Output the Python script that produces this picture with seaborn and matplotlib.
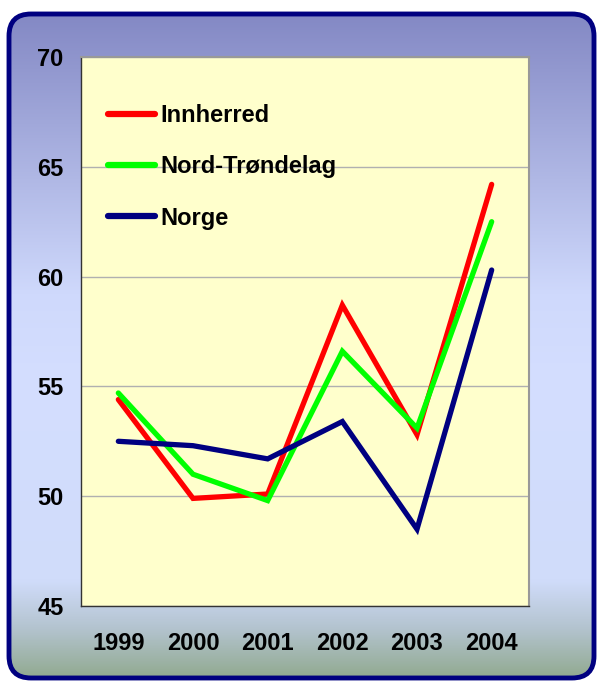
import numpy as np
import matplotlib
matplotlib.use("Agg")
import matplotlib.pyplot as plt
import seaborn as sns
import pandas as pd
from matplotlib.patches import FancyBboxPatch
from matplotlib.colors import LinearSegmentedColormap

# Data
years = ["1999", "2000", "2001", "2002", "2003", "2004"]
innherred = [54.4, 49.9, 50.1, 58.7, 52.8, 64.2]
nord_trondelag = [54.7, 51.0, 49.8, 56.6, 53.1, 62.5]
norge = [52.5, 52.3, 51.7, 53.4, 48.5, 60.3]
series_names = ["Innherred", "Nord-Trøndelag", "Norge"]
series_colors = ["#FF0000", "#00FF00", "#000080"]
y_ticks = [45, 50, 55, 60, 65, 70]

df = pd.DataFrame({"year": years * 3,
                   "value": innherred + nord_trondelag + norge,
                   "series": np.repeat(series_names, len(years))})
df["x"] = list(range(len(years))) * 3

sns.set_style("white")
plt.rcParams["font.family"] = ["Liberation Sans", "DejaVu Sans"]
plt.rcParams["font.weight"] = "bold"
plt.rcParams["text.color"] = "black"
plt.rcParams["xtick.color"] = "black"
plt.rcParams["ytick.color"] = "black"

fig = plt.figure(figsize=(5.97, 6.82), dpi=100)
fig.patch.set_facecolor("white")

# Background panel with vertical gradient and rounded navy border
bg = fig.add_axes([0, 0, 1, 1])
bg.set_xlim(0, 597)
bg.set_ylim(682, 0)
bg.axis("off")
cmap = LinearSegmentedColormap.from_list("bg", [
    (0.0, "#8388C4"), (0.42, "#CFD9FC"), (0.55, "#D4DEFF"),
    (0.85, "#D0DCFA"), (0.92, "#B4C4D0"), (1.0, "#8FA88C")])
grad = np.linspace(0, 1, 256).reshape(-1, 1)
im = bg.imshow(grad, cmap=cmap, aspect="auto", extent=[0, 597, 682, 12], zorder=0)
panel = FancyBboxPatch((9, 14), 585, 664, boxstyle="round,pad=0,rounding_size=22",
                       facecolor="none", edgecolor="#000080", linewidth=3.5, zorder=2)
bg.add_patch(panel)
im.set_clip_path(panel)

ax = fig.add_axes([81 / 597, 1 - 606 / 682, (529 - 81) / 597, (606 - 57) / 682])
ax.set_facecolor("#FFFFCC")

sns.lineplot(data=df, x="x", y="value", hue="series", palette=series_colors,
             hue_order=series_names, linewidth=3.8, ax=ax, legend=False,
             solid_capstyle="round", solid_joinstyle="miter")

ax.set_xlim(-0.5, len(years) - 0.5)
ax.set_ylim(45, 70)
ax.set_yticks(y_ticks)
ax.set_yticklabels([str(v) for v in y_ticks], fontsize=17, fontweight="bold", color="black")
ax.set_xticks(range(len(years)))
ax.set_xticklabels(years, fontsize=17, fontweight="bold", color="black")
ax.set_xticks(np.arange(-0.5, len(years)), minor=True)
ax.tick_params(axis="x", which="major", length=0, pad=19)
ax.tick_params(axis="x", which="minor", length=4.5, width=1, color="#333333", direction="out")
ax.tick_params(axis="y", length=4.5, width=1, color="#333333", direction="out", pad=8)
ax.set_xlabel("")
ax.set_ylabel("")
ax.yaxis.grid(True, color="#B0B0B0", linewidth=1)
ax.set_axisbelow(True)
for side in ["top", "right"]:
    ax.spines[side].set_color("#999999")
    ax.spines[side].set_linewidth(1.5)
for side in ["left", "bottom"]:
    ax.spines[side].set_color("#333333")
    ax.spines[side].set_linewidth(1)

handles = [plt.Line2D([], [], color=c, linewidth=4.5, solid_capstyle="round") for c in series_colors]
leg = ax.legend(handles, series_names, loc="upper left", bbox_to_anchor=(0.013, 0.953),
                frameon=False, handlelength=2.0, handletextpad=0.2, labelspacing=1.2,
                prop={"size": 17, "weight": "bold"})
for t in leg.get_texts():
    t.set_color("black")

fig.savefig("out.png", dpi=100)
